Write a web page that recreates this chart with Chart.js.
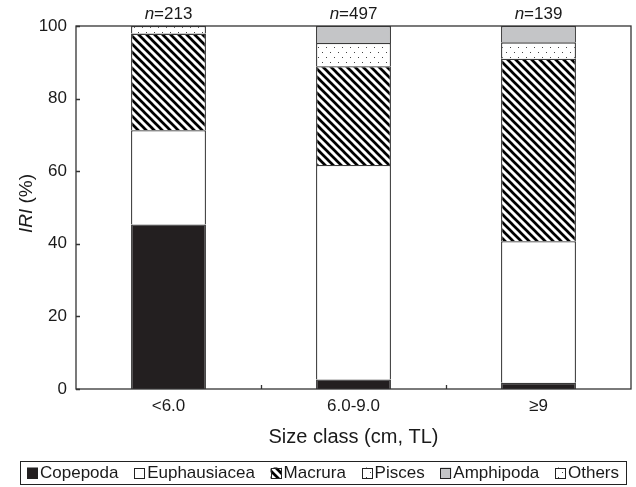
<!DOCTYPE html>
<html><head><meta charset="utf-8">
<script src="https://cdn.jsdelivr.net/npm/chart.js@4/dist/chart.umd.min.js"></script>
<style>html,body{margin:0;padding:0;background:#fff}#wrap{width:636px;height:487px}</style>
</head><body><div id="wrap"><canvas id="c" width="636" height="487"></canvas></div>
<script>
const categories = ['<6.0', '6.0-9.0', '≥9'];
const sampleSizes = [213, 497, 139];
const copepoda = [45.3, 2.6, 1.7];
const euphausiacea = [26.0, 59.1, 39.0];
const macrura = [26.6, 27.2, 50.3];
const pisces = [0, 6.4, 4.5];
const amphipoda = [0, 4.7, 4.5];
const others = [2.1, 0, 0];
const seriesNames = ['Copepoda', 'Euphausiacea', 'Macrura', 'Pisces', 'Amphipoda', 'Others'];
const yMin = 0, yMax = 100, yStep = 20;

const FONT = "'Liberation Sans', Arial, Helvetica, sans-serif";
const TXT = '#1a1a1a';
const EDGE = '#3a3a3a';

function makeHatch() {
  const s = 8, c = document.createElement('canvas'); c.width = s; c.height = s;
  const g = c.getContext('2d');
  g.fillStyle = '#fff'; g.fillRect(0, 0, s, s);
  g.strokeStyle = '#000'; g.lineWidth = 2.7; g.beginPath();
  for (const o of [-s, 0, s]) { g.moveTo(o - 2, -2); g.lineTo(o + s + 2, s + 2); }
  g.stroke();
  return g.createPattern(c, 'repeat');
}
function makeDots() {
  const w = 8, h = 10, c = document.createElement('canvas'); c.width = w; c.height = h;
  const g = c.getContext('2d');
  g.fillStyle = '#fff'; g.fillRect(0, 0, w, h);
  g.fillStyle = '#444';
  g.fillRect(2, 2, 1, 1); g.fillRect(6, 7, 1, 1);
  return g.createPattern(c, 'repeat');
}
const hatch = makeHatch();
const dots = makeDots();
const fills = ['#231f20', '#ffffff', hatch, dots, '#c4c5c7', dots];
const seriesData = [copepoda, euphausiacea, macrura, pisces, amphipoda, others];

const datasets = seriesNames.map((name, i) => ({
  label: name,
  data: seriesData[i].map(v => v > 0 ? v : null),
  backgroundColor: fills[i],
  borderColor: EDGE,
  borderWidth: 1.3,
  borderSkipped: 'bottom',
  barPercentage: 0.405,
  categoryPercentage: 1.0
}));

const decor = {
  id: 'decor',
  afterDatasetsDraw(chart) {
    const ctx = chart.ctx, a = chart.chartArea;
    const xs = chart.scales.x, ys = chart.scales.y;
    ctx.save();
    // frame
    ctx.strokeStyle = '#333'; ctx.lineWidth = 1.3;
    ctx.strokeRect(a.left, a.top, a.right - a.left, a.bottom - a.top);
    // inward y ticks
    ctx.beginPath();
    for (let v = yMin; v <= yMax; v += yStep) {
      const y = Math.round(ys.getPixelForValue(v)) + 0.5;
      ctx.moveTo(a.left, y); ctx.lineTo(a.left + 4, y);
    }
    // inward x ticks at category boundaries
    for (let i = 0; i < categories.length - 1; i++) {
      const x = Math.round((xs.getPixelForValue(i) + xs.getPixelForValue(i + 1)) / 2) + 0.5;
      ctx.moveTo(x, a.bottom); ctx.lineTo(x, a.bottom - 4);
    }
    ctx.stroke();
    // n labels
    ctx.fillStyle = TXT; ctx.textBaseline = 'middle';
    categories.forEach((c, i) => {
      const cx = xs.getPixelForValue(i);
      ctx.font = 'italic 17px ' + FONT;
      const w1 = ctx.measureText('n').width;
      ctx.font = '17px ' + FONT;
      const rest = '=' + sampleSizes[i];
      const w2 = ctx.measureText(rest).width;
      const x0 = cx - (w1 + w2) / 2;
      ctx.textAlign = 'left';
      ctx.font = 'italic 17px ' + FONT; ctx.fillText('n', x0, 14);
      ctx.font = '17px ' + FONT; ctx.fillText(rest, x0 + w1, 14);
    });
    // y title
    ctx.save();
    ctx.translate(27, (a.top + a.bottom) / 2 - 4);
    ctx.rotate(-Math.PI / 2);
    ctx.font = 'italic 19px ' + FONT;
    const t1 = 'IRI', t2 = ' (%)';
    const tw1 = ctx.measureText(t1).width;
    ctx.font = '19px ' + FONT;
    const tw2 = ctx.measureText(t2).width;
    const sx = -(tw1 + tw2) / 2;
    ctx.textAlign = 'left'; ctx.textBaseline = 'middle';
    ctx.font = 'italic 19px ' + FONT; ctx.fillText(t1, sx, 0);
    ctx.font = '19px ' + FONT; ctx.fillText(t2, sx + tw1, 0);
    ctx.restore();
    // legend
    const boxL = 20, boxR = 626, boxT = 461, boxB = 484, margin = 7, icon = 11, gapIT = 2;
    ctx.font = '17px ' + FONT;
    const widths = seriesNames.map(n => ctx.measureText(n).width);
    const total = widths.reduce((s, w) => s + w + icon + gapIT, 0);
    const gap = (boxR - boxL - 2 * margin - total) / (seriesNames.length - 1);
    ctx.strokeStyle = '#222'; ctx.lineWidth = 1;
    ctx.strokeRect(boxL + 0.5, boxT + 0.5, boxR - boxL, boxB - boxT);
    let x = boxL + margin;
    const cy = (boxT + boxB) / 2 + 0.5;
    seriesNames.forEach((n, i) => {
      ctx.fillStyle = fills[i];
      ctx.fillRect(x, cy - icon / 2, icon, icon);
      ctx.strokeStyle = '#222'; ctx.lineWidth = 1;
      ctx.strokeRect(Math.round(x) + 0.5, Math.round(cy - icon / 2) + 0.5, icon - 1, icon - 1);
      ctx.fillStyle = TXT; ctx.textAlign = 'left'; ctx.textBaseline = 'middle';
      ctx.fillText(n, x + icon + gapIT, cy);
      x += icon + gapIT + widths[i] + gap;
    });
    ctx.restore();
  }
};

new Chart(document.getElementById('c'), {
  type: 'bar',
  data: { labels: categories, datasets },
  options: {
    responsive: false,
    animation: false,
    layout: { padding: { left: 0, right: 5, top: 26, bottom: 38 } },
    plugins: { legend: { display: false }, tooltip: { enabled: false } },
    scales: {
      x: {
        stacked: true,
        grid: { display: false, drawTicks: false },
        border: { display: false },
        ticks: { font: { family: FONT, size: 17 }, color: TXT, padding: 7 },
        title: { display: true, text: 'Size class (cm, TL)', font: { family: FONT, size: 20 }, color: TXT, padding: 0 },
        afterFit(s) { s.height = 60; }
      },
      y: {
        stacked: true, min: yMin, max: yMax,
        grid: { display: false, drawTicks: false },
        border: { display: false },
        ticks: { stepSize: yStep, font: { family: FONT, size: 17 }, color: TXT, padding: 9 },
        afterFit(s) { s.width = 76; }
      }
    }
  },
  plugins: [decor]
});
</script>
</body></html>
